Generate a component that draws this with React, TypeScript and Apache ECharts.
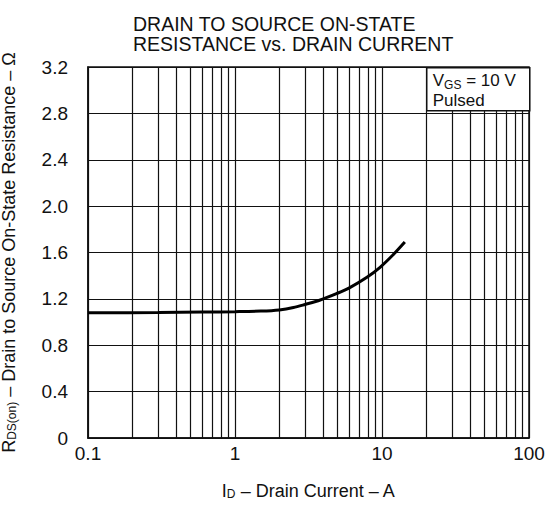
import React, { useEffect, useRef } from "react";
import * as echarts from "echarts";

const titleLines = ["DRAIN TO SOURCE ON-STATE", "RESISTANCE vs. DRAIN CURRENT"];
const xTickValues = [0.1, 1, 10, 100];
const minorGridValues = [
  0.2, 0.3, 0.4, 0.5, 0.6, 0.7, 0.8, 0.9,
  2, 3, 4, 5, 6, 7, 8, 9,
  20, 30, 40, 50, 60, 70, 80, 90,
];
const yTickLabels = ["0", "0.4", "0.8", "1.2", "1.6", "2.0", "2.4", "2.8", "3.2"];
const drainCurrent = [0.1, 0.3, 0.6, 1, 1.5, 2, 2.5, 3, 3.8, 4.9, 6, 7.9, 9.7, 11.9, 14.3];
const rdsOn = [1.08, 1.082, 1.086, 1.09, 1.095, 1.105, 1.125, 1.152, 1.19, 1.245, 1.295, 1.386, 1.472, 1.58, 1.69];

const FONT = "'Liberation Sans', Arial, Helvetica, sans-serif";

export default function App() {
  const ref = useRef<HTMLDivElement>(null);
  useEffect(() => {
    if (!ref.current) return;
    const chart = echarts.init(ref.current, undefined, { renderer: "svg" });
    chart.setOption({
      animation: false,
      backgroundColor: "#fff",
      textStyle: { fontFamily: FONT, color: "#111" },
      title: {
        text: titleLines.join("\n"),
        left: 128,
        top: 9,
        textStyle: { fontFamily: FONT, fontSize: 19.5, fontWeight: "normal", color: "#111", lineHeight: 20 },
      },
      grid: {
        left: 88,
        right: 20,
        top: 67,
        bottom: 68,
        show: true,
        borderColor: "#111",
        borderWidth: 1.5,
        backgroundColor: "transparent",
        outerBoundsMode: "none",
        containLabel: false,
      },
      xAxis: {
        type: "log",
        logBase: 10,
        min: 0.1,
        max: 100,
        name: "{m|I}{s|D}{m| – Drain Current – A}",
        nameLocation: "middle",
        nameGap: 44,
        nameTextStyle: {
          rich: {
            m: { fontFamily: FONT, fontSize: 18, color: "#111" },
            s: { fontFamily: FONT, fontSize: 12, color: "#111", verticalAlign: "bottom" },
          },
        },
        axisLine: { show: true, lineStyle: { color: "#111", width: 1.5 } },
        axisTick: { show: false },
        axisLabel: {
          margin: 6,
          fontFamily: FONT,
          fontSize: 19,
          color: "#111",
          formatter: (v: number) => {
            const hit = xTickValues.find((t) => Math.abs(t - v) / t < 1e-6);
            return hit === undefined ? "" : String(hit);
          },
        },
        splitLine: { show: true, lineStyle: { color: "#111", width: 1.2 } },
      },
      yAxis: {
        type: "value",
        min: 0,
        max: 3.2,
        interval: 0.4,
        name: "{m|R}{s|DS(on)}{m| – Drain to Source On-State Resistance – Ω}",
        nameLocation: "middle",
        nameGap: 70,
        nameTextStyle: {
          rich: {
            m: { fontFamily: FONT, fontSize: 18, color: "#111" },
            s: { fontFamily: FONT, fontSize: 12, color: "#111", verticalAlign: "bottom" },
          },
        },
        axisLine: { show: true, lineStyle: { color: "#111", width: 1.5 } },
        axisTick: { show: false },
        axisLabel: {
          margin: 20,
          fontFamily: FONT,
          fontSize: 19,
          color: "#111",
          formatter: (v: number) => yTickLabels[Math.round(v / 0.4)] ?? "",
        },
        splitLine: { show: true, lineStyle: { color: "#111", width: 1.2 } },
      },
      series: [
        {
          type: "line",
          data: drainCurrent.map((x, i) => [x, rdsOn[i]]),
          smooth: 0.3,
          showSymbol: false,
          symbol: "none",
          lineStyle: { color: "#000", width: 3 },
          z: 5,
          silent: true,
          markLine: {
            silent: true,
            symbol: "none",
            label: { show: false },
            lineStyle: { color: "#111", width: 1.2, type: "solid" },
            data: minorGridValues.map((v) => ({ xAxis: v })),
          },
        },
      ],
      graphic: [
        {
          type: "group",
          left: 426,
          top: 67,
          z: 100,
          children: [
            {
              type: "rect",
              shape: { x: 0, y: 0, width: 103, height: 43 },
              style: { fill: "#fff", stroke: "#111", lineWidth: 1.5 },
              z: 100,
            },
            {
              type: "text",
              x: 6,
              y: 3,
              z: 101,
              style: {
                text: "{m|V}{s|GS}{m| = 10 V}\n{m|Pulsed}",
                fill: "#111",
                rich: {
                  m: { fontFamily: FONT, fontSize: 17, fill: "#111", lineHeight: 20 },
                  s: { fontFamily: FONT, fontSize: 12, fill: "#111", verticalAlign: "bottom", lineHeight: 20 },
                },
              },
            },
          ],
        },
      ],
    });
    return () => chart.dispose();
  }, []);
  return (
    <div
      ref={ref}
      style={{ position: "fixed", left: 0, top: 0, width: 549, height: 506, background: "#fff" }}
    />
  );
}
